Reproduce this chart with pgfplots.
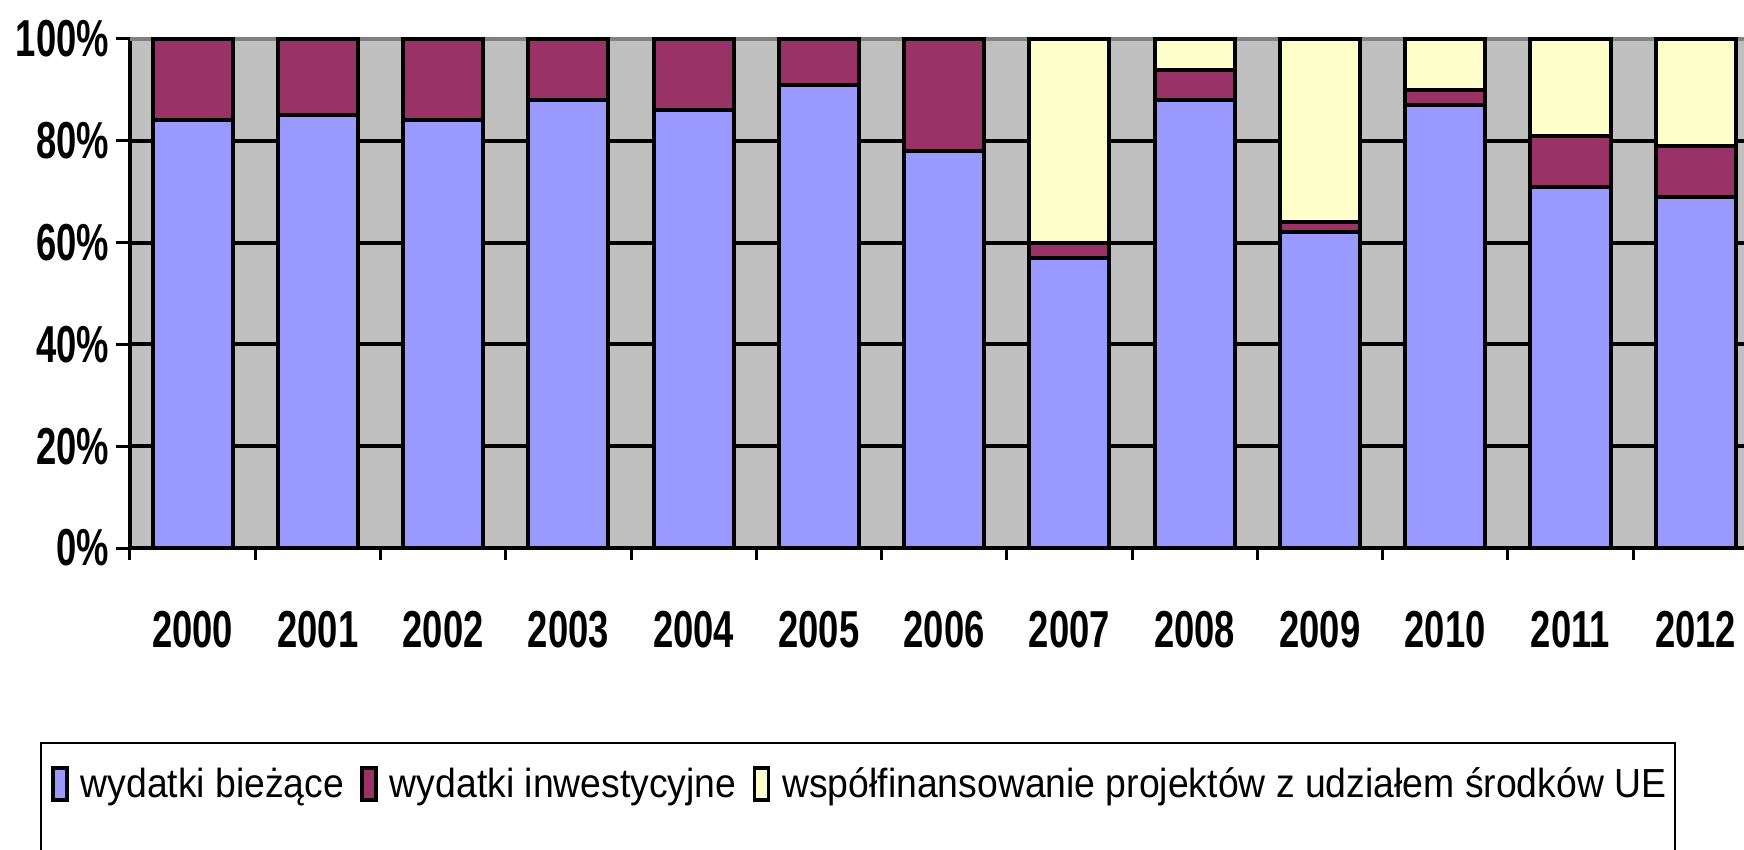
\documentclass[border=0pt]{standalone}
\usepackage{fontspec}
\usepackage{pgfplots}
\pgfplotsset{compat=1.18}
\setmainfont{Liberation Sans}
\newfontfamily\tickfont{Liberation Sans}[FakeStretch=0.7]
\newfontfamily\legfont{Liberation Sans}[FakeStretch=0.92]
\definecolor{cblue}{HTML}{9999FF}
\definecolor{cpurple}{HTML}{993366}
\definecolor{cyellow}{HTML}{FFFFCC}
\definecolor{cgray}{HTML}{C0C0C0}
\definecolor{cdark}{HTML}{808080}
\begin{document}
\begin{tikzpicture}
\begin{axis}[
  name=ax, at={(0,0)}, anchor=south west,
  scale only axis, width=807pt, height=254.5pt,
  ybar stacked, bar width=0.64,
  xmin=-0.5, xmax=12.386, ymin=0, ymax=100,
  clip=false,
  axis x line*=bottom, axis y line*=left,
  axis line style={line width=2pt, -},
  axis background/.style={fill=cgray},
  xtick={0,1,2,3,4,5,6,7,8,9,10,11,12},
  xticklabels={2000,2001,2002,2003,2004,2005,2006,2007,2008,2009,2010,2011,2012},
  minor xtick={-0.5,0.5,1.5,2.5,3.5,4.5,5.5,6.5,7.5,8.5,9.5,10.5,11.5},
  major x tick style={draw=none},
  tick align=outside,
  major tick length=7pt, minor tick length=6pt,
  every tick/.style={black, line width=1.5pt},
  ytick={0,20,40,60,80},
  yticklabels={0\%,20\%,40\%,60\%,80\%},
  extra y ticks={100}, extra y tick labels={100\%},
  extra y tick style={major grid style={draw=cdark, line width=2pt}},
  ymajorgrids, major grid style={draw=black, line width=2pt},
  ticklabel style={font=\tickfont\bfseries\fontsize{26}{30}\selectfont},
  xticklabel style={yshift=-21pt},
  legend columns=-1,
  legend style={at={(axis description cs:-0.0529,-0.4637)}, anchor=west, draw=none, fill=none,
    font=\legfont\fontsize{20.3}{24}\selectfont,
    /tikz/every odd column/.append style={column sep=4pt},
    /tikz/every even column/.append style={column sep=6pt}},
  legend image code/.code={\draw[#1, line width=1.8pt, draw=black] (0pt,-8pt) rectangle (7pt,8pt);},
]
\addplot[fill=cblue, draw=black, line width=2pt] coordinates {
(0,84) (1,85) (2,84) (3,88) (4,86) (5,91) (6,78) (7,57) (8,88) (9,62) (10,87) (11,71) (12,69)};
\addplot[fill=cpurple, draw=black, line width=2pt] coordinates {
(0,16) (1,15) (2,16) (3,12) (4,14) (5,9) (6,22) (7,3) (8,6) (9,2) (10,3) (11,10) (12,10)};
\addplot[fill=cyellow, draw=black, line width=2pt] coordinates {
(0,0) (1,0) (2,0) (3,0) (4,0) (5,0) (6,0) (7,40) (8,6) (9,36) (10,10) (11,19) (12,21)};
\legend{wydatki bieżące, wydatki inwestycyjne, współfinansowanie projektów z udziałem środków UE}
\end{axis}
\draw[line width=0.9pt] ([shift={(-44.5pt,-151pt)}]ax.south west) -- ([shift={(-44.5pt,-97.5pt)}]ax.south west);
\draw[line width=0.9pt] ([shift={(772.5pt,-151pt)}]ax.south west) -- ([shift={(772.5pt,-97.5pt)}]ax.south west);
\draw[line width=1.4pt] ([shift={(-45pt,-97.5pt)}]ax.south west) -- ([shift={(773pt,-97.5pt)}]ax.south west);
\pgfresetboundingbox
\path[use as bounding box] ([shift={(-65pt,-151pt)}]ax.south west) rectangle ([shift={(807pt,274pt)}]ax.south west);
\end{tikzpicture}
\end{document}
